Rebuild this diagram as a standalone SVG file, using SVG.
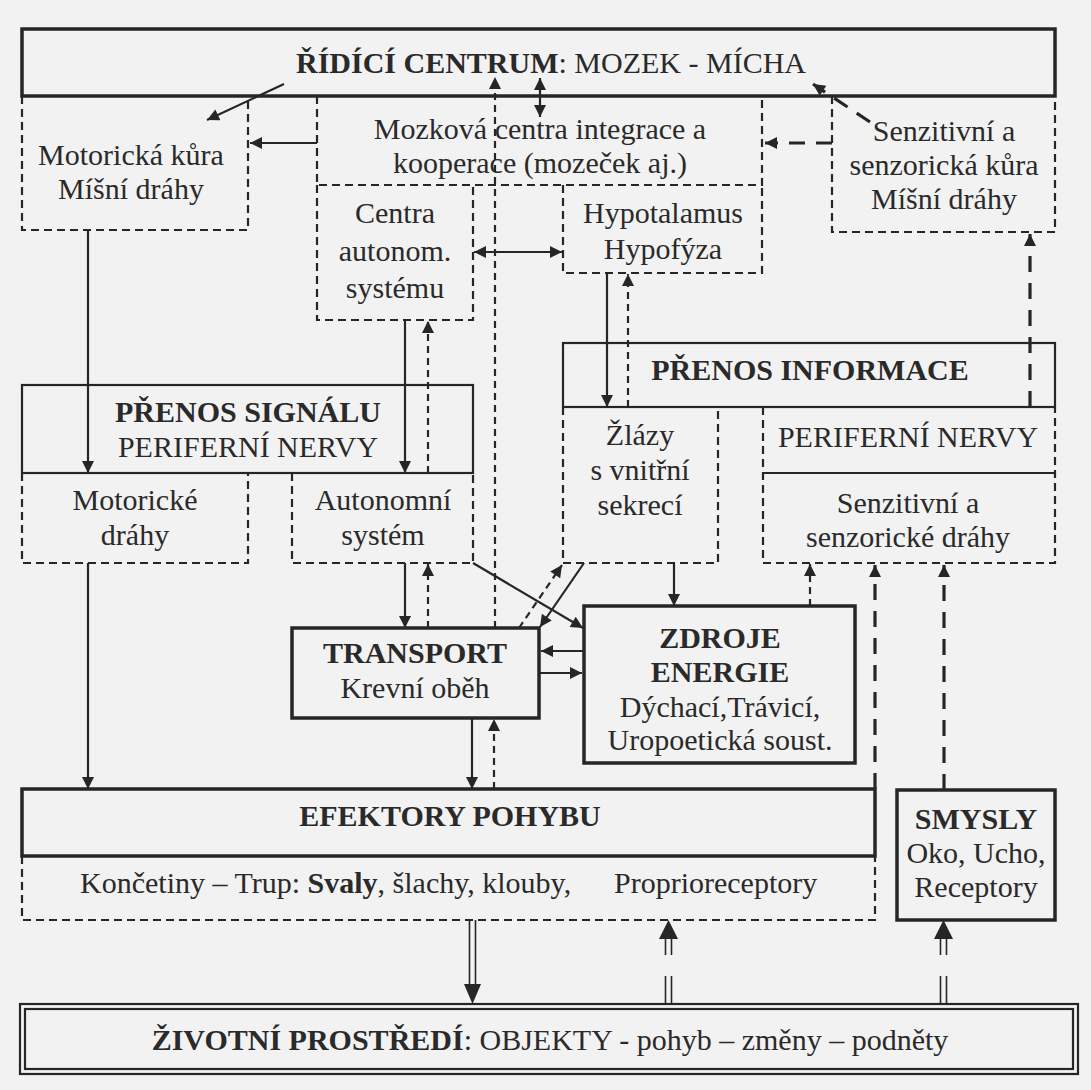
<svg xmlns="http://www.w3.org/2000/svg" width="1091" height="1090" viewBox="0 0 1091 1090">
<defs>
<style>
text{font-family:"Liberation Serif","Times New Roman",serif;font-size:30px;fill:#2a2a2a;text-anchor:middle}
.b{font-weight:bold}
.solid{fill:none;stroke:#262626;stroke-width:2.2}
.thick{fill:none;stroke:#262626;stroke-width:3.5}
.dbox{fill:none;stroke:#262626;stroke-width:2.2;stroke-dasharray:8 5}
.c{fill:none;stroke:#262626;stroke-width:2.2}
.cd{fill:none;stroke:#262626;stroke-width:2.2;stroke-dasharray:7 5}
.cl{fill:none;stroke:#262626;stroke-width:3.2;stroke-dasharray:16 11}
</style>
<marker id="ah" viewBox="0 0 10 10" refX="10" refY="5" markerWidth="15" markerHeight="12" markerUnits="userSpaceOnUse" orient="auto-start-reverse">
<path d="M0,0 L10,5 L0,10 z" fill="#262626"/>
</marker>
</defs>
<rect x="0" y="0" width="1091" height="1090" fill="#f2f2f2"/>

<g id="ridici-centrum">
<rect class="thick" x="22" y="29" width="1033" height="67"/>
<text x="551" y="73" font-size="32"><tspan class="b">ŘÍDÍCÍ CENTRUM</tspan>: MOZEK - MÍCHA</text>
</g>

<g id="motoricka-kura">
<path class="dbox" d="M22,96 V230 H248 V96"/>
<text x="131" y="165">Motorická kůra</text>
<text x="131" y="199">Míšní dráhy</text>
</g>

<g id="mozkova-centra">
<path class="dbox" d="M317,96 V185 H762 V96"/>
<text x="540" y="139">Mozková centra integrace a</text>
<text x="540" y="173">kooperace (mozeček aj.)</text>
</g>

<g id="senzitivni-kura">
<path class="dbox" d="M832,96 V232 H1055 V96"/>
<text x="944" y="141">Senzitivní a</text>
<text x="944" y="175">senzorická kůra</text>
<text x="944" y="209">Míšní dráhy</text>
</g>

<g id="centra-autonom">
<path class="dbox" d="M317,185 V320 H473 V185"/>
<text x="395" y="223">Centra</text>
<text x="395" y="261">autonom.</text>
<text x="395" y="298">systému</text>
</g>

<g id="hypotalamus">
<path class="dbox" d="M563,185 V273 H762 V185"/>
<text x="663" y="223">Hypotalamus</text>
<text x="663" y="259">Hypofýza</text>
</g>

<g id="prenos-signalu">
<rect class="solid" x="22" y="385" width="451" height="88"/>
<text class="b" x="248" y="422">PŘENOS SIGNÁLU</text>
<text x="248" y="457">PERIFERNÍ NERVY</text>
</g>

<g id="motoricke-drahy">
<path class="dbox" d="M22,473 V563 H248 V473"/>
<text x="135" y="510">Motorické</text>
<text x="135" y="545">dráhy</text>
</g>

<g id="autonomni-system">
<path class="dbox" d="M292,473 V563 H473 V473"/>
<text x="383" y="510">Autonomní</text>
<text x="383" y="545">systém</text>
</g>

<g id="prenos-informace">
<rect class="solid" x="563" y="343" width="492" height="64"/>
<text class="b" x="810" y="380">PŘENOS INFORMACE</text>
</g>

<g id="zlazy">
<path class="dbox" d="M563,407 V563 H718 V407"/>
<text x="640" y="445">Žlázy</text>
<text x="640" y="480">s vnitřní</text>
<text x="640" y="515">sekrecí</text>
</g>

<g id="periferni-nervy-senz">
<path class="dbox" d="M763,407 V563 H1055 V407"/>
<line class="solid" x1="763" y1="473" x2="1055" y2="473"/>
<text x="908" y="447">PERIFERNÍ NERVY</text>
<text x="908" y="513">Senzitivní a</text>
<text x="908" y="547">senzorické dráhy</text>
</g>

<g id="transport">
<rect class="thick" x="292" y="628" width="247" height="90"/>
<text class="b" x="415" y="663">TRANSPORT</text>
<text x="415" y="698">Krevní oběh</text>
</g>

<g id="zdroje-energie">
<rect class="thick" x="584" y="606" width="271" height="157"/>
<text class="b" x="720" y="648">ZDROJE</text>
<text class="b" x="720" y="682">ENERGIE</text>
<text x="720" y="717">Dýchací,Trávicí,</text>
<text x="720" y="750">Uropoetická soust.</text>
</g>

<g id="efektory-pohybu">
<rect class="thick" x="22" y="789" width="853" height="67"/>
<path class="dbox" d="M22,856 V920 H875 V856"/>
<text class="b" x="450" y="826">EFEKTORY POHYBU</text>
<text x="80" y="893" style="text-anchor:start">Končetiny – Trup: <tspan class="b">Svaly</tspan>, šlachy, klouby,</text>
<text x="614" y="893" style="text-anchor:start">Proprioreceptory</text>
</g>

<g id="smysly">
<rect class="thick" x="897" y="790" width="158" height="130"/>
<text class="b" x="976" y="829">SMYSLY</text>
<text x="976" y="863">Oko, Ucho,</text>
<text x="976" y="897">Receptory</text>
</g>

<g id="zivotni-prostredi">
<rect class="solid" x="20" y="1004" width="1058" height="70"/>
<rect class="solid" x="25" y="1009" width="1048" height="60"/>
<text x="550" y="1050"><tspan class="b">ŽIVOTNÍ PROSTŘEDÍ</tspan>: OBJEKTY - pohyb – změny – podněty</text>
</g>

<g id="connectors">
<line class="c" x1="284" y1="84" x2="207" y2="120" marker-end="url(#ah)"/>
<line class="c" x1="317" y1="143" x2="250" y2="143" marker-end="url(#ah)"/>
<line class="c" x1="540" y1="78" x2="540" y2="117" marker-start="url(#ah)" marker-end="url(#ah)"/>
<line class="cd" x1="495" y1="628" x2="495" y2="77" marker-end="url(#ah)"/>
<line class="cl" x1="832" y1="143" x2="765" y2="143" marker-end="url(#ah)"/>
<line class="cl" x1="870" y1="122" x2="813" y2="84" marker-end="url(#ah)"/>
<line class="c" x1="88" y1="230" x2="88" y2="473" marker-end="url(#ah)"/>
<line class="c" x1="88" y1="563" x2="88" y2="789" marker-end="url(#ah)"/>
<line class="c" x1="405" y1="320" x2="405" y2="473" marker-end="url(#ah)"/>
<line class="cd" x1="428" y1="473" x2="428" y2="321" marker-end="url(#ah)"/>
<line class="c" x1="405" y1="563" x2="405" y2="628" marker-end="url(#ah)"/>
<line class="cd" x1="428" y1="628" x2="428" y2="564" marker-end="url(#ah)"/>
<line class="c" x1="473" y1="563" x2="583" y2="628" marker-end="url(#ah)"/>
<line class="c" x1="584" y1="563" x2="540" y2="627" marker-end="url(#ah)"/>
<line class="cd" x1="519" y1="628" x2="562" y2="565" marker-end="url(#ah)"/>
<line class="c" x1="474" y1="252" x2="562" y2="252" marker-start="url(#ah)" marker-end="url(#ah)"/>
<line class="c" x1="607" y1="273" x2="607" y2="407" marker-end="url(#ah)"/>
<line class="cd" x1="628" y1="407" x2="628" y2="274" marker-end="url(#ah)"/>
<line class="c" x1="674" y1="563" x2="674" y2="606" marker-end="url(#ah)"/>
<line class="cd" x1="810" y1="606" x2="810" y2="564" marker-end="url(#ah)"/>
<line class="cl" x1="875" y1="789" x2="875" y2="565" marker-end="url(#ah)"/>
<line class="cl" x1="944" y1="790" x2="944" y2="565" marker-end="url(#ah)"/>
<line class="cl" x1="1030" y1="407" x2="1030" y2="234" marker-end="url(#ah)"/>
<line class="c" x1="584" y1="651" x2="541" y2="651" marker-end="url(#ah)"/>
<line class="c" x1="539" y1="673" x2="582" y2="673" marker-end="url(#ah)"/>
<line class="c" x1="472" y1="718" x2="472" y2="789" marker-end="url(#ah)"/>
<line class="cd" x1="494" y1="789" x2="494" y2="719" marker-end="url(#ah)"/>
<g id="double-arrows" fill="#262626" stroke="#262626" stroke-width="1.6">
<path d="M469.5,920 V986 M475.5,920 V986" fill="none"/>
<path d="M464,984 L481,984 L472.5,1004 z" stroke="none"/>
<path d="M665.5,936 V955 M665.5,976 V1004 M671.5,936 V955 M671.5,976 V1004" fill="none"/>
<path d="M659,939 L678,939 L668.5,920 z" stroke="none"/>
<path d="M940.5,936 V955 M940.5,976 V1004 M946.5,936 V955 M946.5,976 V1004" fill="none"/>
<path d="M934,939 L953,939 L943.5,920 z" stroke="none"/>
</g>
</g>
</svg>
